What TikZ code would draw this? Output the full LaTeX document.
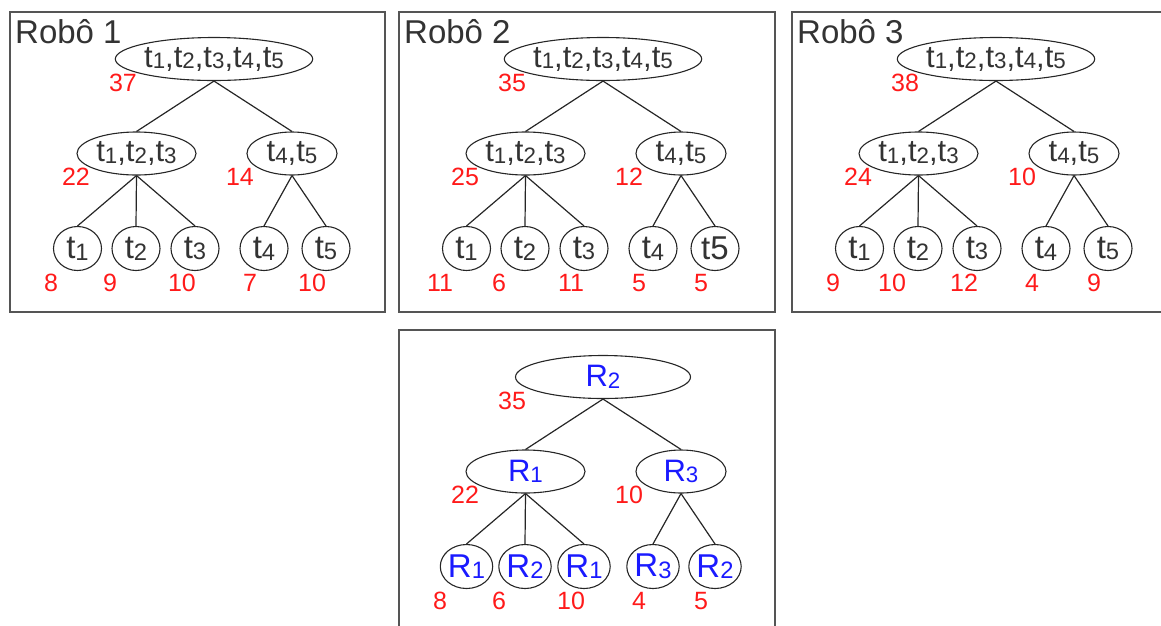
\documentclass[tikz,border=0pt]{standalone}
\usepackage{fontspec}
\setmainfont{Liberation Sans}
\usepackage{graphicx}
\usetikzlibrary{shapes.geometric}
\definecolor{txt}{HTML}{333333}
\definecolor{framec}{HTML}{555555}
\definecolor{numc}{HTML}{FF1A1A}
\definecolor{rc}{HTML}{1A1AFF}
\newcommand\sbd[1]{\raisebox{-0.05em}{\scalebox{0.72}{#1}}}
\tikzset{
  panel/.style={draw=framec, line width=1.6pt},
  hdr/.style={anchor=base west, text=txt, font=\fontsize{33}{36}\selectfont, inner sep=0pt},
  ellbase/.style={draw=black!85, line width=1.1pt, ellipse, inner sep=0pt, text=txt, minimum height=43pt},
  topell/.style={ellbase, minimum width=175pt, font=\fontsize{31}{34}\selectfont},
  midell/.style={ellbase, font=\fontsize{31}{34}\selectfont},
  leafell/.style={ellbase, minimum width=48pt, minimum height=44pt, font=\fontsize{33}{36}\selectfont},
  edge/.style={draw=black!85, line width=1.2pt},
  num/.style={text=numc, font=\fontsize{25}{27}\selectfont, inner sep=0pt},
}
\newcommand\mytree[9]{%
  \node[topell] (#1t) at (214,59) {#2};
  \node[midell, minimum width=119pt] (#1a) at (136.5,153.5) {#3};
  \node[midell, minimum width=90pt] (#1b) at (292,153.5) {#4};
  \node[leafell] (#1l1) at (77.5,248.5) {#5};
  \node[leafell] (#1l2) at (136,248.5) {#6};
  \node[leafell] (#1l3) at (195,248.5) {#7};
  \node[leafell] (#1l4) at (264,248.5) {#8};
  \node[leafell] (#1l5) at (326,248.5) {#9};
  \draw[edge] (#1t.south) -- (#1a.north);
  \draw[edge] (#1t.south) -- (#1b.north);
  \draw[edge] (#1a.south) -- (#1l1.north);
  \draw[edge] (#1a.south) -- (#1l2.north);
  \draw[edge] (#1a.south) -- (#1l3.north);
  \draw[edge] (#1b.south) -- (#1l4.north);
  \draw[edge] (#1b.south) -- (#1l5.north);
}
\newcommand\mynums[9]{%
  \node[num] (#1n0) at (123,83) {#2};
  \node[num] (#1n1) at (76,177) {#3};
  \node[num] (#1n2) at (240,177) {#4};
  \node[num] (#1n3) at (51,283) {#5};
  \node[num] (#1n4) at (110,283) {#6};
  \node[num] (#1n5) at (182,283) {#7};
  \node[num] (#1n6) at (250,283) {#8};
  \node[num] (#1n7) at (312,283) {#9};
}
\begin{document}
\begin{tikzpicture}[x=1pt,y=-1pt]
\useasboundingbox (0,0) rectangle (1161,625);
\clip (0,0) rectangle (1161,625);
% Panel 1
\draw[panel] (10,12) rectangle (385,312);
\node[hdr] (h1) at (15,43) {Robô 1};
\mytree{a}{t\sbd{1},t\sbd{2},t\sbd{3},t\sbd{4},t\sbd{5}}{t\sbd{1},t\sbd{2},t\sbd{3}}{t\sbd{4},t\sbd{5}}{t\sbd{1}}{t\sbd{2}}{t\sbd{3}}{t\sbd{4}}{t\sbd{5}}
\mynums{a}{37}{22}{14}{8}{9}{10}{7}{10}
% Panel 2
\begin{scope}[shift={(389,0)}]
\draw[panel] (10,12) rectangle (386,312);
\node[hdr] (h2) at (15,43) {Robô 2};
\mytree{b}{t\sbd{1},t\sbd{2},t\sbd{3},t\sbd{4},t\sbd{5}}{t\sbd{1},t\sbd{2},t\sbd{3}}{t\sbd{4},t\sbd{5}}{t\sbd{1}}{t\sbd{2}}{t\sbd{3}}{t\sbd{4}}{t5}
\mynums{b}{35}{25}{12}{11}{6}{11}{5}{5}
\end{scope}
% Panel 3
\begin{scope}[shift={(782,0)}]
\draw[panel] (10,12) rectangle (400,312);
\node[hdr] (h3) at (15,43) {Robô 3};
\mytree{c}{t\sbd{1},t\sbd{2},t\sbd{3},t\sbd{4},t\sbd{5}}{t\sbd{1},t\sbd{2},t\sbd{3}}{t\sbd{4},t\sbd{5}}{t\sbd{1}}{t\sbd{2}}{t\sbd{3}}{t\sbd{4}}{t\sbd{5}}
\mynums{c}{38}{24}{10}{9}{10}{12}{4}{9}
\end{scope}
% Panel 4
\begin{scope}[shift={(389,318)}]
\draw[panel] (10,12) rectangle (386,330);
\mytree{d}{\textcolor{rc}{R\sbd{2}}}{\textcolor{rc}{R\sbd{1}}}{\textcolor{rc}{R\sbd{3}}}{\textcolor{rc}{R\sbd{1}}}{\textcolor{rc}{R\sbd{2}}}{\textcolor{rc}{R\sbd{1}}}{\textcolor{rc}{R\sbd{3}}}{\textcolor{rc}{R\sbd{2}}}
\mynums{d}{35}{22}{10}{8}{6}{10}{4}{5}
\end{scope}
\end{tikzpicture}
\end{document}
